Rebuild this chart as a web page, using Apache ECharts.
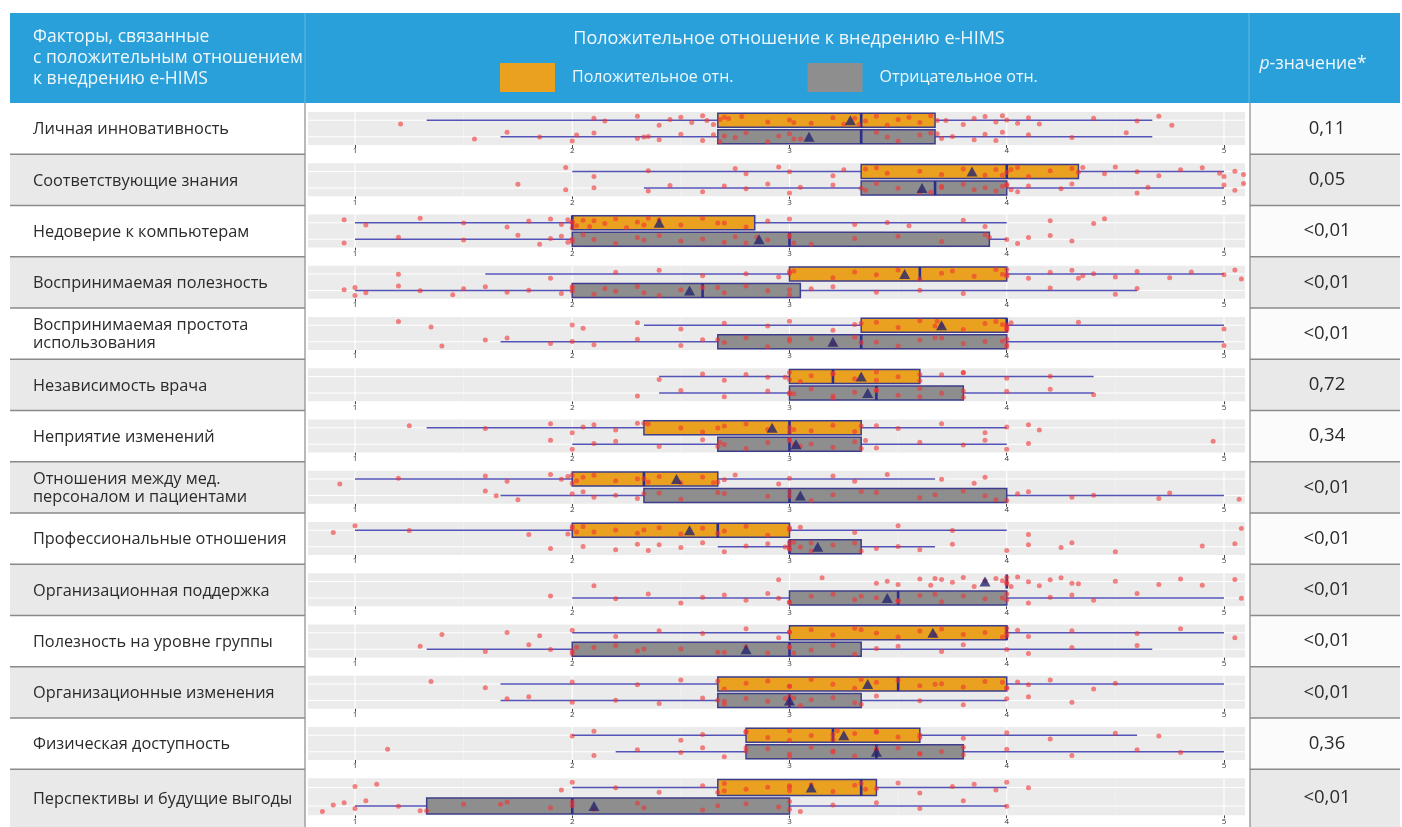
<!DOCTYPE html>
<html>
<head>
<meta charset="utf-8">
<title>Факторы, связанные с положительным отношением к внедрению e-HIMS</title>
<script src="https://cdn.jsdelivr.net/npm/echarts@6/dist/echarts.min.js"></script>
<style>
  html, body { margin: 0; padding: 0; background: #ffffff; }
  #chart { width: 1402px; height: 827px; }
</style>
</head>
<body>
<div id="chart"></div>
<script>
// ---- Data ----
const FACTORS = [
  'Личная инновативность',
  'Соответствующие знания',
  'Недоверие к компьютерам',
  'Воспринимаемая полезность',
  'Воспринимаемая простота\nиспользования',
  'Независимость врача',
  'Неприятие изменений',
  'Отношения между мед.\nперсоналом и пациентами',
  'Профессиональные отношения',
  'Организационная поддержка',
  'Полезность на уровне группы',
  'Организационные изменения',
  'Физическая доступность',
  'Перспективы и будущие выгоды'
];

const P_VALUES = ['0,11', '0,05', '<0,01', '<0,01', '<0,01', '0,72', '0,34',
                  '<0,01', '<0,01', '<0,01', '<0,01', '<0,01', '0,36', '<0,01'];

const TICKS = [1, 2, 3, 4, 5];
const MINOR_TICKS = [1.5, 2.5, 3.5, 4.5];

const GROUPS = ['Положительное отн.', 'Отрицательное отн.'];

// [нижний ус, Q1, медиана, Q3, верхний ус, среднее]
const POS_STATS = [
  [1.33, 2.67, 3.33, 3.67, 4.67, 3.28],
  [2.00, 3.33, 4.00, 4.33, 5.00, 3.84],
  [1.00, 2.00, 2.00, 2.84, 4.00, 2.40],
  [1.60, 3.00, 3.60, 4.00, 5.00, 3.53],
  [2.33, 3.33, 4.00, 4.00, 5.00, 3.70],
  [2.40, 3.00, 3.20, 3.60, 4.40, 3.33],
  [1.33, 2.33, 3.00, 3.33, 4.00, 2.92],
  [1.00, 2.00, 2.33, 2.67, 3.67, 2.48],
  [1.00, 2.00, 2.67, 3.00, 4.00, 2.54],
  [4.00, 4.00, 4.00, 4.00, 4.00, 3.90],
  [2.00, 3.00, 4.00, 4.00, 5.00, 3.66],
  [1.67, 2.67, 3.50, 4.00, 5.00, 3.36],
  [2.00, 2.80, 3.20, 3.60, 4.60, 3.25],
  [2.00, 2.67, 3.33, 3.40, 4.00, 3.10]
];

const NEG_STATS = [
  [1.67, 2.67, 3.33, 3.67, 4.67, 3.09],
  [2.33, 3.33, 3.67, 4.00, 5.00, 3.61],
  [1.00, 2.00, 3.00, 3.92, 4.00, 2.86],
  [1.00, 2.00, 2.60, 3.05, 4.60, 2.54],
  [1.67, 2.67, 3.33, 4.00, 5.00, 3.20],
  [2.40, 3.00, 3.40, 3.80, 4.40, 3.36],
  [2.00, 2.67, 3.00, 3.33, 4.00, 3.03],
  [1.67, 2.33, 3.00, 4.00, 5.00, 3.05],
  [2.67, 3.00, 3.00, 3.33, 3.67, 3.13],
  [2.00, 3.00, 3.50, 4.00, 5.00, 3.45],
  [1.33, 2.00, 3.00, 3.33, 4.67, 2.80],
  [1.67, 2.67, 3.00, 3.33, 4.00, 3.00],
  [2.20, 2.80, 3.40, 3.80, 5.00, 3.40],
  [1.00, 1.33, 2.00, 3.00, 4.00, 2.10]
];

// Individual responses, one list per factor
const POS_POINTS = [
  [1.21, 2.10, 2.15, 2.30, 2.40, 2.45, 2.50, 2.55, 2.60, 2.62, 2.65, 2.72, 2.78, 2.90, 3.00, 3.10, 3.20, 3.25, 3.30, 3.35, 3.40, 3.45, 3.50, 3.55, 3.60, 3.65, 3.72, 3.80, 3.85, 3.90, 3.95, 4.00, 4.05, 4.10, 4.15, 4.40, 4.60, 4.70, 4.76, 2.68, 2.70, 3.02, 3.98, 3.68, 3.32],
  [1.97, 2.10, 2.35, 2.75, 2.80, 2.95, 3.00, 3.20, 3.25, 3.40, 3.45, 3.60, 3.70, 3.80, 3.90, 3.95, 4.00, 4.05, 4.10, 4.20, 4.30, 4.45, 4.50, 4.60, 4.70, 4.80, 4.90, 4.98, 5.05, 5.09, 3.35, 3.98, 4.02, 4.33, 4.35, 5.00],
  [0.95, 1.05, 1.30, 1.50, 1.70, 1.80, 1.90, 1.95, 2.00, 2.02, 2.05, 2.08, 2.10, 2.15, 2.20, 2.25, 2.30, 2.40, 2.50, 2.60, 2.70, 2.80, 2.90, 3.00, 3.30, 3.45, 3.55, 3.80, 3.90, 4.20, 4.40, 4.45, 2.00, 2.00, 1.98, 2.33, 2.35, 2.67],
  [1.20, 1.90, 2.20, 2.40, 2.60, 2.80, 2.95, 3.00, 3.20, 3.30, 3.40, 3.50, 3.60, 3.70, 3.75, 3.85, 3.95, 4.00, 4.10, 4.20, 4.30, 4.35, 4.40, 4.50, 4.60, 4.75, 4.85, 5.00, 5.05, 5.08, 3.00, 3.02, 4.00, 4.00, 3.98, 4.33],
  [1.20, 1.35, 2.00, 2.05, 2.30, 2.50, 2.70, 2.90, 3.00, 3.20, 3.30, 3.40, 3.50, 3.60, 3.70, 3.80, 3.90, 3.95, 4.00, 4.00, 4.00, 4.02, 5.00, 3.33, 3.67, 3.68, 4.00, 3.98, 4.33],
  [2.40, 2.60, 2.70, 2.80, 2.90, 3.00, 3.05, 3.10, 3.20, 3.30, 3.40, 3.50, 3.60, 3.70, 3.80, 4.00, 4.20, 3.00, 3.20, 3.40, 3.60, 2.98, 3.80],
  [1.25, 1.60, 1.90, 2.00, 2.05, 2.10, 2.20, 2.30, 2.50, 2.60, 2.70, 2.80, 2.90, 3.00, 3.10, 3.20, 3.30, 3.40, 3.50, 3.70, 3.90, 4.00, 4.10, 4.15, 2.33, 2.67, 3.00, 3.33, 2.35, 3.02],
  [0.93, 1.20, 1.60, 1.70, 1.90, 1.95, 2.00, 2.05, 2.10, 2.20, 2.30, 2.35, 2.40, 2.50, 2.60, 2.70, 2.75, 2.95, 3.00, 3.20, 3.30, 3.45, 3.70, 3.85, 3.90, 2.00, 2.02, 2.33, 2.67, 1.98, 2.65],
  [0.90, 1.00, 1.25, 1.80, 2.00, 2.05, 2.10, 2.20, 2.30, 2.40, 2.50, 2.60, 2.70, 2.80, 2.90, 3.00, 3.05, 3.30, 3.50, 3.75, 4.10, 5.08, 2.00, 2.02, 2.33, 2.67, 3.00, 1.98],
  [2.10, 2.95, 3.15, 3.40, 3.45, 3.50, 3.60, 3.65, 3.70, 3.75, 3.80, 3.85, 3.90, 3.95, 4.00, 4.05, 4.10, 4.15, 4.20, 4.25, 4.30, 4.50, 4.70, 4.80, 4.90, 5.05, 4.00, 4.00, 4.02, 3.98, 3.67, 4.33],
  [1.40, 1.70, 1.85, 2.00, 2.20, 2.40, 2.60, 2.80, 2.95, 3.00, 3.10, 3.20, 3.30, 3.40, 3.50, 3.60, 3.70, 3.80, 3.90, 4.00, 4.05, 4.10, 4.30, 4.60, 4.80, 5.05, 3.00, 3.33, 3.67, 4.00, 4.00, 3.98],
  [1.35, 1.60, 2.00, 2.30, 2.50, 2.70, 2.80, 2.90, 3.00, 3.10, 3.20, 3.30, 3.40, 3.50, 3.60, 3.70, 3.80, 3.90, 4.00, 4.05, 4.10, 4.20, 4.40, 4.50, 2.67, 3.00, 3.33, 3.67, 4.00, 3.98],
  [2.00, 2.10, 2.50, 2.60, 2.80, 2.90, 3.00, 3.10, 3.20, 3.30, 3.40, 3.50, 3.60, 3.80, 4.00, 4.20, 4.50, 4.70, 2.80, 3.00, 3.20, 3.40, 3.60, 3.22],
  [1.00, 1.10, 1.95, 2.00, 2.20, 2.40, 2.60, 2.70, 2.80, 2.90, 3.00, 3.10, 3.20, 3.30, 3.40, 3.50, 3.60, 3.75, 3.85, 3.95, 4.00, 4.10, 2.67, 3.00, 3.33, 3.35, 3.00, 2.70]
];

const NEG_POINTS = [
  [1.55, 1.70, 1.85, 2.00, 2.02, 2.10, 2.30, 2.35, 2.40, 2.50, 2.60, 2.65, 2.75, 2.80, 2.90, 2.95, 3.00, 3.05, 3.40, 3.45, 3.50, 3.60, 3.65, 3.70, 3.75, 3.85, 3.90, 3.95, 4.10, 4.30, 4.55, 2.68, 2.70, 3.68, 3.02, 3.98, 2.33],
  [1.75, 1.97, 2.10, 2.35, 2.45, 2.60, 2.70, 2.80, 2.90, 3.00, 3.05, 3.20, 3.35, 3.40, 3.50, 3.60, 3.70, 3.80, 3.85, 3.90, 3.95, 4.00, 4.05, 4.10, 4.25, 4.30, 4.60, 4.65, 5.00, 5.05, 5.09, 3.33, 3.65, 3.98, 4.00, 4.02, 3.70],
  [0.95, 1.20, 1.50, 1.75, 1.85, 1.90, 1.95, 2.00, 2.05, 2.10, 2.20, 2.30, 2.40, 2.50, 2.60, 2.70, 2.75, 2.80, 2.85, 2.90, 3.00, 3.10, 3.30, 3.50, 3.70, 3.90, 4.00, 4.05, 4.10, 4.20, 4.30, 2.00, 1.98, 3.00, 3.02, 3.92, 2.33],
  [0.95, 1.00, 1.05, 1.20, 1.30, 1.45, 1.50, 1.60, 1.70, 1.80, 1.95, 2.00, 2.10, 2.15, 2.20, 2.30, 2.40, 2.50, 2.60, 2.70, 2.80, 2.90, 3.00, 3.10, 3.20, 3.40, 3.60, 3.80, 4.20, 4.50, 4.60, 2.00, 2.00, 1.00, 3.00, 2.67, 2.33],
  [1.40, 1.60, 1.70, 1.90, 2.00, 2.10, 2.30, 2.50, 2.60, 2.70, 2.80, 2.90, 3.00, 3.10, 3.20, 3.30, 3.40, 3.50, 3.60, 3.70, 3.80, 3.90, 4.00, 4.00, 5.00, 2.67, 3.33, 3.67, 4.00, 3.98, 3.00],
  [2.30, 2.50, 2.70, 2.90, 3.00, 3.10, 3.20, 3.30, 3.40, 3.50, 3.60, 3.70, 3.80, 4.00, 4.20, 4.40, 3.00, 3.20, 3.40, 3.60, 3.80, 3.02],
  [1.90, 2.00, 2.10, 2.20, 2.40, 2.60, 2.70, 2.80, 2.90, 3.00, 3.05, 3.10, 3.20, 3.30, 3.40, 3.60, 3.80, 3.90, 4.00, 4.10, 4.95, 2.67, 3.00, 3.02, 3.33, 2.68, 3.35],
  [1.60, 1.65, 1.75, 2.00, 2.05, 2.10, 2.20, 2.30, 2.40, 2.50, 2.70, 2.90, 3.00, 3.10, 3.20, 3.40, 3.60, 3.80, 3.90, 3.95, 4.05, 4.10, 4.30, 4.40, 4.70, 4.75, 5.07, 2.33, 3.00, 3.33, 4.00, 3.67, 2.67],
  [1.90, 2.05, 2.20, 2.30, 2.35, 2.40, 2.50, 2.60, 2.70, 2.80, 2.90, 3.00, 3.00, 3.05, 3.10, 3.20, 3.30, 3.40, 3.50, 3.60, 3.75, 4.00, 4.10, 4.25, 4.30, 4.50, 4.90, 5.05, 3.00, 3.02, 2.98, 3.33, 3.00, 3.10],
  [1.90, 2.20, 2.35, 2.50, 2.60, 2.70, 2.80, 2.90, 2.95, 3.00, 3.10, 3.20, 3.30, 3.40, 3.50, 3.60, 3.70, 3.80, 3.90, 4.00, 4.10, 4.20, 4.30, 4.40, 4.60, 5.08, 3.00, 3.33, 3.67, 4.00, 3.98, 3.50],
  [1.30, 1.60, 1.80, 1.90, 2.00, 2.10, 2.20, 2.30, 2.50, 2.70, 2.80, 2.90, 3.00, 3.10, 3.20, 3.30, 3.40, 3.50, 3.70, 3.80, 4.00, 4.10, 4.30, 4.60, 2.00, 2.33, 2.67, 3.00, 3.02, 2.02],
  [1.70, 1.80, 2.00, 2.20, 2.40, 2.60, 2.70, 2.80, 2.90, 3.00, 3.05, 3.10, 3.20, 3.30, 3.40, 3.60, 3.80, 4.00, 4.10, 4.30, 2.67, 3.00, 3.02, 3.33, 2.98, 2.70],
  [1.15, 2.10, 2.30, 2.50, 2.60, 2.70, 2.80, 2.90, 3.00, 3.10, 3.20, 3.30, 3.40, 3.50, 3.60, 3.70, 3.80, 4.00, 4.30, 4.60, 4.80, 2.80, 3.00, 3.20, 3.40, 3.60, 3.80],
  [0.85, 0.90, 0.95, 1.00, 1.05, 1.20, 1.30, 1.50, 1.70, 1.90, 2.00, 2.10, 2.30, 2.60, 2.80, 2.95, 3.00, 3.05, 3.20, 3.40, 3.60, 3.80, 4.00, 1.33, 1.67, 2.00, 2.33, 2.67, 3.00]
];

// ---- Layout & style ----
const FONT = '"Open Sans", "Noto Sans", sans-serif';
const HEADER_TOP = 13, HEADER_BOTTOM = 103;
const ROW_H = 51.25, TABLE_BOTTOM = 827;
const LEFT_X = 10, LEFT_W = 295;
const PLOT_L = 308, PLOT_R = 1245;
const RIGHT_X = 1250, RIGHT_W = 150;
const X_MIN = 0.7837, X_MAX = 5.0967;
const POS_Y = 1.5, NEG_Y = 0.5, BOX_H = 0.86;
// vertical spread of the response dots around each group line
const JITTER = [-0.22, 0.12, -0.05, 0.25, -0.3, 0.05, 0.18, -0.14, 0.28, -0.02, -0.26, 0.1, 0.22, -0.1, 0.02, -0.18, 0.15];

const ORANGE = '#e9a11f', GREY = '#8e8e8e';
const BORDER = '#3e3e8c', WHISKER = '#5353b8', MEDIAN = '#2d2d8c', MEAN = '#25256e';
const DOT = 'rgba(242, 50, 50, 0.74)';
const HEADER_BLUE = '#2aa0da';
const HEADER_TEXT = '#eef7fc';

const rowTop = i => HEADER_BOTTOM + i * ROW_H;
const rowBottom = i => (i === FACTORS.length - 1 ? TABLE_BOTTOM : rowTop(i + 1));

function renderBox(params, api) {
  const y = api.value(6);
  const low = api.coord([api.value(0), y]);
  const q1 = api.coord([api.value(1), y]);
  const med = api.coord([api.value(2), y]);
  const q3 = api.coord([api.value(3), y]);
  const high = api.coord([api.value(4), y]);
  const h = api.size([0, BOX_H])[1];
  const children = [];
  if (high[0] > low[0]) {
    children.push({ type: 'line', shape: { x1: low[0], y1: low[1], x2: high[0], y2: high[1] },
      style: { stroke: WHISKER, lineWidth: 1.7 } });
  }
  if (q3[0] > q1[0]) {
    children.push({ type: 'rect', shape: { x: q1[0], y: q1[1] - h / 2, width: q3[0] - q1[0], height: h },
      style: { fill: api.visual('color'), stroke: BORDER, lineWidth: 1.5 } });
  }
  children.push({ type: 'line', shape: { x1: med[0], y1: med[1] - h / 2, x2: med[0], y2: med[1] + h / 2 },
    style: { stroke: MEDIAN, lineWidth: 2.6 } });
  return { type: 'group', children };
}

function renderGridLine(params, api) {
  const kind = api.value(0), v = api.value(1);
  const major = api.value(2) === 1;
  let a, b;
  if (kind === 0) { a = api.coord([v, 0]); b = api.coord([v, 2]); }
  else { a = api.coord([X_MIN, v]); b = api.coord([X_MAX, v]); }
  return { type: 'line', shape: { x1: a[0], y1: a[1], x2: b[0], y2: b[1] },
    style: { stroke: major ? '#ffffff' : '#f6f6f6', lineWidth: major ? 1.1 : 0.6 } };
}

const grids = [], xAxes = [], yAxes = [], series = [];
const gridLineData = [
  ...TICKS.map(v => [0, v, 1]),
  ...MINOR_TICKS.map(v => [0, v, 0]),
  [1, POS_Y, 1], [1, NEG_Y, 1]
];

FACTORS.forEach((name, i) => {
  const top = rowTop(i) + 9;
  const height = i === FACTORS.length - 1 ? 37 : 33;
  grids.push({ left: PLOT_L, width: PLOT_R - PLOT_L, top, height,
    show: true, backgroundColor: '#ebebeb', borderWidth: 0 });
  xAxes.push({
    type: 'value', gridIndex: i, min: X_MIN, max: X_MAX,
    axisLine: { show: false }, splitLine: { show: false },
    axisTick: { show: true, customValues: TICKS, length: 3, lineStyle: { color: '#444', width: 1 } },
    axisLabel: { customValues: TICKS, fontSize: 8, color: '#3a3a3a', margin: 2, fontFamily: FONT }
  });
  yAxes.push({ type: 'value', gridIndex: i, min: 0, max: 2, show: false });

  series.push({
    type: 'custom', xAxisIndex: i, yAxisIndex: i, silent: true, z: 1,
    renderItem: renderGridLine, data: gridLineData, encode: { x: 1, y: 1 }
  });

  [[POS_STATS[i], POS_Y, ORANGE, GROUPS[0]], [NEG_STATS[i], NEG_Y, GREY, GROUPS[1]]].forEach(([s, y, color, gname]) => {
    series.push({
      name: gname, type: 'custom', xAxisIndex: i, yAxisIndex: i, z: 2,
      itemStyle: { color },
      renderItem: renderBox,
      encode: { x: [0, 1, 2, 3, 4], y: 6 },
      data: [[s[0], s[1], s[2], s[3], s[4], s[5], y]]
    });
  });

  const dots = [];
  POS_POINTS[i].forEach((v, j) => dots.push([v, POS_Y + JITTER[(j + i * 3) % JITTER.length]]));
  NEG_POINTS[i].forEach((v, j) => dots.push([v, NEG_Y + JITTER[(j + i * 5 + 7) % JITTER.length]]));
  series.push({
    type: 'scatter', xAxisIndex: i, yAxisIndex: i, z: 3, silent: true,
    symbol: 'circle', symbolSize: 5,
    itemStyle: { color: DOT },
    data: dots
  });

  series.push({
    type: 'scatter', xAxisIndex: i, yAxisIndex: i, z: 4, silent: true,
    symbol: 'triangle', symbolSize: [11, 10],
    itemStyle: { color: MEAN },
    data: [[POS_STATS[i][5], POS_Y], [NEG_STATS[i][5], NEG_Y]]
  });
});

// ---- Table frame: header band, factor column, p-value column ----
const graphics = [];
graphics.push({ type: 'rect', shape: { x: LEFT_X, y: HEADER_TOP, width: 1400 - LEFT_X, height: HEADER_BOTTOM - HEADER_TOP },
  style: { fill: HEADER_BLUE }, z: 0 });
graphics.push({ type: 'line', shape: { x1: 305, y1: HEADER_TOP, x2: 305, y2: HEADER_BOTTOM },
  style: { stroke: 'rgba(255,255,255,0.25)', lineWidth: 1 } });
graphics.push({ type: 'line', shape: { x1: 1249, y1: HEADER_TOP, x2: 1249, y2: HEADER_BOTTOM },
  style: { stroke: 'rgba(255,255,255,0.25)', lineWidth: 1 } });
graphics.push({ type: 'text', left: 33, top: 27,
  style: { text: 'Факторы, связанные\nс положительным отношением\nк внедрению e-HIMS',
    fill: HEADER_TEXT, font: '17.5px ' + FONT, lineHeight: 21 } });
graphics.push({ type: 'text', x: 789, y: 39,
  style: { text: 'Положительное отношение к внедрению e-HIMS', fill: HEADER_TEXT,
    font: '18px ' + FONT, align: 'center', verticalAlign: 'middle' } });
graphics.push({ type: 'text', x: 1313, y: 64,
  style: { text: '{i|p}-значение*', fill: HEADER_TEXT, font: '17.5px ' + FONT, align: 'center', verticalAlign: 'middle',
    rich: { i: { fontStyle: 'italic', fontSize: 17.5, fill: HEADER_TEXT, fontFamily: FONT } } } });

FACTORS.forEach((name, i) => {
  const t = rowTop(i), b = rowBottom(i);
  const fill = i % 2 === 0 ? '#ffffff' : '#e9e9e9';
  const pfill = i % 2 === 0 ? '#fbfbfb' : '#e9e9e9';
  graphics.push({ type: 'rect', shape: { x: LEFT_X, y: t, width: LEFT_W, height: b - t }, style: { fill }, z: 0 });
  graphics.push({ type: 'rect', shape: { x: RIGHT_X, y: t, width: RIGHT_W, height: b - t }, style: { fill: pfill }, z: 0 });
  if (i < FACTORS.length - 1) {
    graphics.push({ type: 'line', shape: { x1: LEFT_X, y1: b, x2: LEFT_X + LEFT_W, y2: b },
      style: { stroke: '#8a8a8a', lineWidth: 1.4 }, z: 1 });
    graphics.push({ type: 'line', shape: { x1: RIGHT_X, y1: b, x2: RIGHT_X + RIGHT_W, y2: b },
      style: { stroke: '#8a8a8a', lineWidth: 1.4 }, z: 1 });
  }
  graphics.push({ type: 'text', x: 33, y: (t + b) / 2 + 1, z: 2,
    style: { text: name, fill: '#2b2b2b', font: '16.3px ' + FONT, lineHeight: 18, verticalAlign: 'middle' } });
  graphics.push({ type: 'text', x: 1327, y: (t + b) / 2, z: 2,
    style: { text: P_VALUES[i], fill: '#2b2b2b', font: '18.5px ' + FONT, align: 'center', verticalAlign: 'middle' } });
});
graphics.push({ type: 'line', shape: { x1: 305, y1: HEADER_BOTTOM, x2: 305, y2: TABLE_BOTTOM },
  style: { stroke: '#8a8a8a', lineWidth: 1.2 }, z: 1 });
graphics.push({ type: 'line', shape: { x1: RIGHT_X, y1: HEADER_BOTTOM, x2: RIGHT_X, y2: TABLE_BOTTOM },
  style: { stroke: '#8a8a8a', lineWidth: 1.2 }, z: 1 });

const chart = echarts.init(document.getElementById('chart'), null, { renderer: 'canvas' });
chart.setOption({
  animation: false,
  backgroundColor: '#ffffff',
  textStyle: { fontFamily: FONT },
  legend: {
    left: 495, top: 58, itemWidth: 55, itemHeight: 29, itemGap: 74, selectedMode: false,
    textStyle: { color: HEADER_TEXT, fontSize: 16, fontFamily: FONT, padding: [0, 0, 0, 12] },
    data: [
      { name: GROUPS[0], icon: 'rect', itemStyle: { color: ORANGE, borderWidth: 0 } },
      { name: GROUPS[1], icon: 'rect', itemStyle: { color: GREY, borderWidth: 0 } }
    ]
  },
  graphic: { elements: graphics },
  grid: grids,
  xAxis: xAxes,
  yAxis: yAxes,
  series
});
</script>
</body>
</html>
